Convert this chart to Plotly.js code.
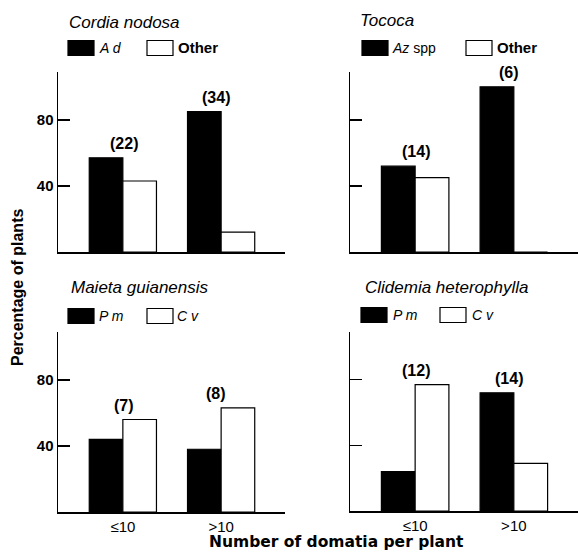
<!DOCTYPE html>
<html>
<head>
<meta charset="utf-8">
<script src="https://cdn.plot.ly/plotly-3.0.1.min.js"></script>
<style>html,body{margin:0;padding:0;background:#fff;}#chart{width:578px;height:553px;}</style>
</head>
<body>
<div id="chart"></div>
<script>
// ---- data ----
const categories = ['\u226410', '>10'];

const cordiaTitle = 'Cordia nodosa';
const cordiaNames = ['<i>A d</i>', '<b>Other</b>'];
const cordiaAd = [57, 85];
const cordiaOther = [43, 12];
const cordiaN = ['(22)', '(34)'];

const tococaTitle = 'Tococa';
const tococaNames = ['<i>Az</i> spp', '<b>Other</b>'];
const tococaAz = [52, 100];
const tococaOther = [45, 0];
const tococaN = ['(14)', '(6)'];

const maietaTitle = 'Maieta guianensis';
const maietaNames = ['<i>P m</i>', '<i>C v</i>'];
const maietaPm = [44, 38];
const maietaCv = [56, 63];
const maietaN = ['(7)', '(8)'];

const clidemiaTitle = 'Clidemia heterophylla';
const clidemiaNames = ['<i>P m</i>', '<i>C v</i>'];
const clidemiaPm = [24, 72];
const clidemiaCv = [77, 29];
const clidemiaN = ['(12)', '(14)'];

const yTitle = 'Percentage of plants';
const xTitle = 'Number of domatia per plant';

// ---- layout helpers ----
const W = 578, H = 553;
const FONT = 'Liberation Sans, Arial, Helvetica, sans-serif';
const px = v => v / W;
const py = v => (H - v) / H;

const panels = [
  {title: cordiaTitle, names: cordiaNames, a: cordiaAd, b: cordiaOther, n: cordiaN,
   xa: 'x', ya: 'y', xd: [58, 285], yd: [72, 252], titleX: 67, titleY: 22,
   leg: {y: 48, box1: 68, txt1: 97, box2: 147, txt2: 176}},
  {title: tococaTitle, names: tococaNames, a: tococaAz, b: tococaOther, n: tococaN,
   xa: 'x2', ya: 'y2', xd: [350, 578], yd: [72, 252], titleX: 358, titleY: 21,
   leg: {y: 48, box1: 362, txt1: 390, box2: 466, txt2: 495}},
  {title: maietaTitle, names: maietaNames, a: maietaPm, b: maietaCv, n: maietaN,
   xa: 'x3', ya: 'y3', xd: [58, 285], yd: [332, 512], titleX: 69, titleY: 287,
   leg: {y: 316, box1: 68, txt1: 97, box2: 147, txt2: 175}},
  {title: clidemiaTitle, names: clidemiaNames, a: clidemiaPm, b: clidemiaCv, n: clidemiaN,
   xa: 'x4', ya: 'y4', xd: [350, 578], yd: [332, 511], titleX: 363, titleY: 288,
   leg: {y: 315, box1: 361, txt1: 391, box2: 440, txt2: 470}}
];

const traces = [];
const shapes = [];
const annotations = [];
const layout = {
  width: W, height: H, autosize: false,
  margin: {l: 0, r: 0, t: 0, b: 0, pad: 0},
  paper_bgcolor: '#fff', plot_bgcolor: '#fff',
  showlegend: false,
  barmode: 'group', bargap: 0.316, bargroupgap: 0,
  font: {family: FONT, color: '#000'}
};

panels.forEach((p, i) => {
  const xs = [0, 1];
  traces.push({type: 'bar', x: xs, y: p.a, xaxis: p.xa, yaxis: p.ya, name: p.names[0],
    marker: {color: '#000', line: {color: '#000', width: 1.2}}, hoverinfo: 'skip'});
  traces.push({type: 'bar', x: xs, y: p.b, xaxis: p.xa, yaxis: p.ya, name: p.names[1],
    marker: {color: '#fff', line: {color: '#000', width: 1.2}}, hoverinfo: 'skip'});

  const left = (i % 2 === 0), bottom = (i >= 2);
  const xKey = p.xa === 'x' ? 'xaxis' : 'xaxis' + p.xa.slice(1);
  const yKey = p.ya === 'y' ? 'yaxis' : 'yaxis' + p.ya.slice(1);
  layout[xKey] = {
    domain: [px(p.xd[0]), px(p.xd[1])], anchor: p.ya,
    range: [-0.66, 1.65], tickvals: xs, ticktext: categories,
    ticks: '', showline: true, linecolor: '#000', linewidth: 1.5,
    showgrid: false, zeroline: false, showticklabels: bottom,
    tickfont: {family: FONT, size: 15, color: '#000'}, fixedrange: true
  };
  layout[yKey] = {
    domain: [py(p.yd[1]), py(p.yd[0])], anchor: p.xa,
    range: [0, 109], tickvals: [40, 80],
    ticks: 'inside', ticklen: 12, tickwidth: 1.5, tickcolor: '#000',
    showline: true, linecolor: '#000', linewidth: 1.5,
    showgrid: false, zeroline: false, showticklabels: left,
    tickfont: {family: FONT, size: 15, color: '#000', weight: 'bold'}, fixedrange: true
  };

  // panel title
  annotations.push({xref: 'paper', yref: 'paper', x: px(p.titleX), y: py(p.titleY),
    xanchor: 'left', yanchor: 'middle', showarrow: false, text: '<i>' + p.title + '</i>',
    font: {family: FONT, size: 17, color: '#000'}});

  // legend boxes + labels
  const L = p.leg;
  [[L.box1, L.txt1, '#000', p.names[0]], [L.box2, L.txt2, '#fff', p.names[1]]].forEach(([bx, tx, col, nm]) => {
    shapes.push({type: 'rect', xref: 'paper', yref: 'paper',
      x0: px(bx), x1: px(bx + 26), y0: py(L.y + 7.5), y1: py(L.y - 7.5),
      fillcolor: col, line: {color: '#000', width: 1.2}});
    annotations.push({xref: 'paper', yref: 'paper', x: px(tx), y: py(L.y),
      xanchor: 'left', yanchor: 'middle', showarrow: false, text: nm,
      font: {family: FONT, size: nm.indexOf('<b>') === 0 ? 15 : 14, color: '#000'}});
  });

  // sample sizes above each group
  xs.forEach((x, j) => {
    annotations.push({xref: p.xa, yref: p.ya, x: x, y: Math.max(p.a[j], p.b[j]),
      xanchor: 'center', yanchor: 'bottom', yshift: 4, xshift: j === 1 ? -5 : 1,
      showarrow: false, text: '<b>' + p.n[j] + '</b>',
      font: {family: FONT, size: 16, color: '#000'}});
  });
});

// shared axis titles
annotations.push({xref: 'paper', yref: 'paper', x: px(18), y: py(288), textangle: -90,
  xanchor: 'center', yanchor: 'middle', showarrow: false, text: '<b>' + yTitle + '</b>',
  font: {family: FONT, size: 16, color: '#000'}});
annotations.push({xref: 'paper', yref: 'paper', x: px(336), y: 0,
  xanchor: 'center', yanchor: 'bottom', yshift: 0, showarrow: false, text: '<b>' + xTitle + '</b>',
  font: {family: 'DejaVu Sans, sans-serif', size: 15.5, color: '#000'}});

layout.shapes = shapes;
layout.annotations = annotations;

Plotly.newPlot('chart', traces, layout, {displayModeBar: false, staticPlot: true});
</script>
</body>
</html>
